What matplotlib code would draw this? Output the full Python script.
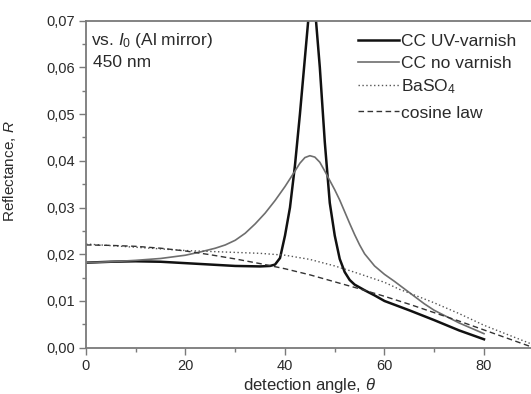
import matplotlib
matplotlib.use("Agg")
import matplotlib.pyplot as plt
from matplotlib.ticker import FuncFormatter, MultipleLocator

plt.rcParams["font.family"] = ["Liberation Sans", "DejaVu Sans"]
plt.rcParams["mathtext.fontset"] = "custom"
plt.rcParams["mathtext.rm"] = "Liberation Sans"
plt.rcParams["mathtext.it"] = "Liberation Sans:italic"

# values
uv_angle = [0, 5, 10, 15, 20, 25, 30, 35, 37, 38, 39, 40, 41, 42, 43, 44, 45,
            46, 47, 48, 49, 50, 51, 52, 53, 54, 56, 58, 60, 65, 70, 75, 80]
uv_refl = [0.0182, 0.0184, 0.0185, 0.0184, 0.0181, 0.0178, 0.0175, 0.0174,
           0.0175, 0.0178, 0.0192, 0.0240, 0.0300, 0.0390, 0.0500, 0.0620,
           0.0740, 0.0730, 0.0600, 0.0440, 0.0310, 0.0240, 0.0190, 0.0162,
           0.0145, 0.0135, 0.0123, 0.0112, 0.0100, 0.0080, 0.0059, 0.0037,
           0.0018]

nv_angle = [0, 5, 10, 15, 20, 23, 26, 28, 30, 32, 34, 36, 38, 40, 42, 43, 44,
            45, 46, 47, 48, 49, 50, 51, 52, 53, 54, 55, 56, 58, 60, 62, 65, 68,
            70, 75, 80]
nv_refl = [0.0182, 0.0184, 0.0187, 0.0191, 0.0198, 0.0205, 0.0213, 0.0220,
           0.0230, 0.0245, 0.0265, 0.0288, 0.0315, 0.0345, 0.0378, 0.0395,
           0.0407, 0.0411, 0.0408, 0.0397, 0.0378, 0.0358, 0.0338, 0.0316,
           0.0291, 0.0266, 0.0242, 0.0220, 0.0201, 0.0175, 0.0157, 0.0142,
           0.0118, 0.0094, 0.0080, 0.0053, 0.0030]

ba_angle = [0, 10, 20, 30, 35, 40, 45, 50, 53, 55, 60, 63, 65, 70, 75, 80, 85, 90]
ba_refl = [0.0222, 0.0215, 0.0208, 0.0204, 0.0202, 0.0198, 0.0189, 0.0175,
           0.0165, 0.0158, 0.0140, 0.0125, 0.0117, 0.0096, 0.0073, 0.0048,
           0.0027, 0.0006]

cos_angle = [0, 5, 10, 15, 20, 25, 30, 35, 40, 45, 50, 55, 60, 65, 70, 75, 80, 85, 90]
cos_refl = [0.0220, 0.0219, 0.0217, 0.0213, 0.0207, 0.0199, 0.0190, 0.0180,
            0.0169, 0.0156, 0.0141, 0.0126, 0.0110, 0.0093, 0.0075, 0.0057,
            0.0038, 0.0019, 0.0000]

text_color = "#2a2a2a"
axis_color = "#7a7a7a"

fig = plt.figure(figsize=(5.31, 3.94), dpi=100)
ax = fig.add_axes([86 / 531, 1 - 347.7 / 394, 447.75 / 531, 327 / 394])

l_uv, = ax.plot(uv_angle, uv_refl, color="#111111", lw=1.8, label="CC UV-varnish")
l_nv, = ax.plot(nv_angle, nv_refl, color="#6e6e6e", lw=1.2, label="CC no varnish")
l_ba, = ax.plot(ba_angle, ba_refl, color="#555555", lw=1.0, ls=(0, (1, 1.8)),
                label="BaSO$_4$")
l_cos, = ax.plot(cos_angle, cos_refl, color="#333333", lw=1.0, ls=(0, (4, 2.5)),
                 label="cosine law")

ax.set_xlim(0, 90)
ax.set_ylim(0, 0.07)
ax.xaxis.set_major_locator(MultipleLocator(20))
ax.xaxis.set_minor_locator(MultipleLocator(10))
ax.yaxis.set_major_locator(MultipleLocator(0.01))
ax.yaxis.set_minor_locator(MultipleLocator(0.005))
ax.yaxis.set_major_formatter(FuncFormatter(lambda v, p: f"{v:.2f}".replace(".", ",")))

for side in ("left", "bottom", "top"):
    ax.spines[side].set_color(axis_color)
    ax.spines[side].set_linewidth(1.3)
ax.spines["right"].set_visible(False)
ax.tick_params(which="both", direction="out", color=axis_color, width=1.0,
               labelsize=10.5, labelcolor=text_color)
ax.tick_params(which="major", length=5, pad=3)
ax.tick_params(which="minor", length=3)

ax.set_xlabel(r"detection angle, $\mathit{\theta}$", fontsize=12,
              color=text_color, labelpad=2)
ax.set_ylabel(r"Reflectance, $\mathit{R}$", fontsize=11, color=text_color)
ax.yaxis.set_label_coords(-0.152, 0.54)

ax.text(0.012, 0.938, r"vs. $\mathit{I}_{\mathit{0}}$ (Al mirror)",
        transform=ax.transAxes, fontsize=12.5, color=text_color, va="center")
ax.text(0.015, 0.871, "450 nm", transform=ax.transAxes,
        fontsize=12.5, color=text_color, va="center")

# legend in two parts: the subscript row leaves a bigger gap before "cosine law"
leg_kw = dict(loc="upper left", frameon=False, fontsize=12.5, handlelength=2.4,
              handletextpad=0.1, labelspacing=0.36, borderaxespad=0, borderpad=0)
leg1 = ax.legend(handles=[l_uv, l_nv, l_ba], bbox_to_anchor=(0.607, 0.959), **leg_kw)
ax.add_artist(leg1)
leg2 = ax.legend(handles=[l_cos], bbox_to_anchor=(0.607, 0.741), **leg_kw)
for leg in (leg1, leg2):
    for t in leg.get_texts():
        t.set_color(text_color)

fig.savefig("out.png", dpi=100)
